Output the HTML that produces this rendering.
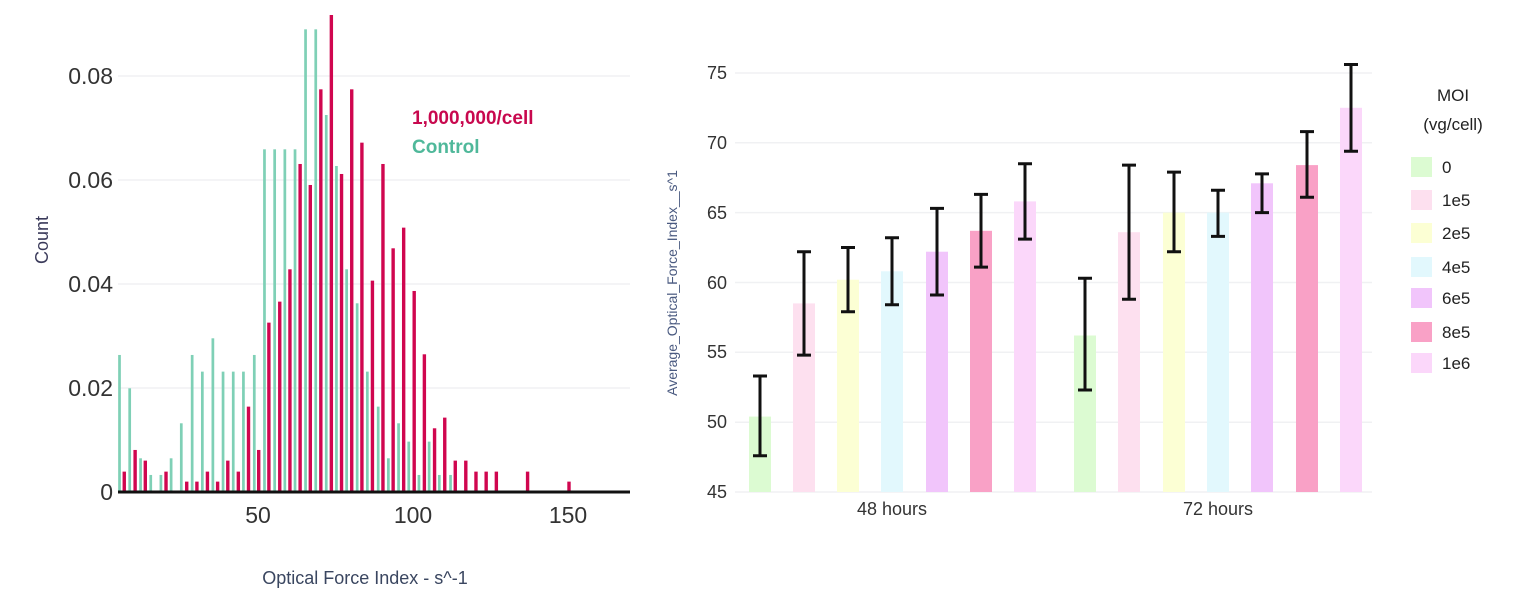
<!DOCTYPE html>
<html><head><meta charset="utf-8"><style>
html,body{margin:0;padding:0;background:#fff;}
svg{display:block;font-family:"Liberation Sans",sans-serif;}
</style></head><body>
<svg width="1526" height="604" viewBox="0 0 1526 604" xmlns="http://www.w3.org/2000/svg">
<rect width="1526" height="604" fill="#fff"/>
<!-- LEFT HISTOGRAM -->
<g stroke="#f0f1f3" stroke-width="1.5">
<line x1="118" y1="76" x2="630" y2="76"/><line x1="118" y1="180" x2="630" y2="180"/>
<line x1="118" y1="284" x2="630" y2="284"/><line x1="118" y1="388" x2="630" y2="388"/>
</g>
<g font-size="23" fill="#333" text-anchor="end">
<text x="113" y="84">0.08</text><text x="113" y="188">0.06</text><text x="113" y="292">0.04</text><text x="113" y="396">0.02</text><text x="113" y="500">0</text>
</g>
<g font-size="23" fill="#333" text-anchor="middle">
<text x="258" y="523">50</text><text x="413" y="523">100</text><text x="568" y="523">150</text>
</g>
<text x="365" y="584" font-size="18" fill="#3a4660" text-anchor="middle">Optical Force Index - s^-1</text>
<text transform="translate(48,240) rotate(-90)" font-size="18" fill="#3a3a5a" text-anchor="middle">Count</text>
<g transform="translate(110,0) scale(0.3395,0.3333)">
<g fill="#7fd0b6">
<rect x="24" y="1065" width="8" height="410"/><rect x="54" y="1165" width="8" height="310"/><rect x="86" y="1375" width="8" height="100"/><rect x="116" y="1425" width="8" height="50"/><rect x="146" y="1425" width="8" height="50"/><rect x="176" y="1375" width="8" height="100"/><rect x="206" y="1270" width="8" height="205"/><rect x="238" y="1065" width="8" height="410"/><rect x="268" y="1115" width="8" height="360"/><rect x="299" y="1015" width="8" height="460"/><rect x="329" y="1115" width="8" height="360"/><rect x="359" y="1115" width="8" height="360"/><rect x="389" y="1115" width="8" height="360"/><rect x="421" y="1065" width="8" height="410"/><rect x="451" y="448" width="8" height="1027"/><rect x="481" y="448" width="8" height="1027"/><rect x="511" y="448" width="8" height="1027"/><rect x="541" y="448" width="8" height="1027"/><rect x="572" y="88" width="8" height="1387"/><rect x="602" y="88" width="8" height="1387"/><rect x="633" y="345" width="8" height="1130"/><rect x="663" y="498" width="8" height="977"/><rect x="693" y="808" width="8" height="667"/><rect x="724" y="910" width="8" height="565"/><rect x="754" y="1115" width="8" height="360"/><rect x="786" y="1220" width="8" height="255"/><rect x="816" y="1375" width="8" height="100"/><rect x="846" y="1270" width="8" height="205"/><rect x="876" y="1325" width="8" height="150"/><rect x="906" y="1425" width="8" height="50"/><rect x="936" y="1325" width="8" height="150"/><rect x="966" y="1425" width="8" height="50"/><rect x="999" y="1425" width="8" height="50"/>
</g>
<g fill="#d0064f">
<rect x="37" y="1415" width="10" height="60"/><rect x="69" y="1350" width="10" height="125"/><rect x="99" y="1382" width="10" height="93"/><rect x="160" y="1415" width="10" height="60"/><rect x="221" y="1445" width="10" height="30"/><rect x="251" y="1445" width="10" height="30"/><rect x="282" y="1415" width="10" height="60"/><rect x="312" y="1445" width="10" height="30"/><rect x="342" y="1382" width="10" height="93"/><rect x="373" y="1415" width="10" height="60"/><rect x="403" y="1220" width="10" height="255"/><rect x="433" y="1350" width="10" height="125"/><rect x="463" y="968" width="10" height="507"/><rect x="495" y="905" width="10" height="570"/><rect x="525" y="808" width="10" height="667"/><rect x="555" y="492" width="10" height="983"/><rect x="585" y="555" width="10" height="920"/><rect x="616" y="268" width="10" height="1207"/><rect x="647" y="45" width="10" height="1430"/><rect x="677" y="522" width="10" height="953"/><rect x="707" y="268" width="10" height="1207"/><rect x="737" y="428" width="10" height="1047"/><rect x="768" y="842" width="10" height="633"/><rect x="799" y="492" width="10" height="983"/><rect x="829" y="745" width="10" height="730"/><rect x="860" y="683" width="10" height="792"/><rect x="891" y="873" width="10" height="602"/><rect x="921" y="1063" width="10" height="412"/><rect x="951" y="1285" width="10" height="190"/><rect x="981" y="1253" width="10" height="222"/><rect x="1012" y="1382" width="10" height="93"/><rect x="1043" y="1382" width="10" height="93"/><rect x="1073" y="1415" width="10" height="60"/><rect x="1103" y="1415" width="10" height="60"/><rect x="1133" y="1415" width="10" height="60"/><rect x="1225" y="1415" width="10" height="60"/><rect x="1347" y="1445" width="10" height="30"/>
</g>
</g>
<line x1="118" y1="492" x2="630" y2="492" stroke="#111" stroke-width="3"/>
<text x="412" y="124" font-size="19" font-weight="bold" fill="#c8084e">1,000,000/cell</text>
<text x="412" y="153" font-size="19" font-weight="bold" fill="#4fb89a">Control</text>

<!-- RIGHT BAR CHART -->
<g stroke="#f0f1f3" stroke-width="1.5">
<line x1="735" y1="492" x2="1372" y2="492"/><line x1="735" y1="422.2" x2="1372" y2="422.2"/><line x1="735" y1="352.3" x2="1372" y2="352.3"/><line x1="735" y1="282.5" x2="1372" y2="282.5"/><line x1="735" y1="212.6" x2="1372" y2="212.6"/><line x1="735" y1="142.8" x2="1372" y2="142.8"/><line x1="735" y1="73" x2="1372" y2="73"/>
</g>
<g font-size="18" fill="#333" text-anchor="end">
<text x="727" y="498">45</text><text x="727" y="428">50</text><text x="727" y="358">55</text><text x="727" y="289">60</text><text x="727" y="219">65</text><text x="727" y="149">70</text><text x="727" y="79">75</text>
</g>
<text transform="translate(677,283) rotate(-90)" font-size="14" fill="#4a5a80" text-anchor="middle">Average_Optical_Force_Index__s^1</text>
<g font-size="18" fill="#333" text-anchor="middle">
<text x="892" y="515">48 hours</text><text x="1218" y="515">72 hours</text>
</g>
<g>
<rect x="749" y="416.6" width="22" height="75.4" fill="#dcfbd2"/>
<rect x="793" y="303.4" width="22" height="188.6" fill="#fde0ef"/>
<rect x="837" y="279.7" width="22" height="212.3" fill="#fcffd4"/>
<rect x="881" y="271.3" width="22" height="220.7" fill="#e2f8fd"/>
<rect x="926" y="251.7" width="22" height="240.3" fill="#f1c5fb"/>
<rect x="970" y="230.8" width="22" height="261.2" fill="#f9a1c6"/>
<rect x="1014" y="201.4" width="22" height="290.6" fill="#fbd7fa"/>
<rect x="1074" y="335.5" width="22" height="156.5" fill="#dcfbd2"/>
<rect x="1118" y="232.2" width="22" height="259.8" fill="#fde0ef"/>
<rect x="1163" y="212.6" width="22" height="279.4" fill="#fcffd4"/>
<rect x="1207" y="212.6" width="22" height="279.4" fill="#e2f8fd"/>
<rect x="1251" y="183.3" width="22" height="308.7" fill="#f1c5fb"/>
<rect x="1296" y="165.1" width="22" height="326.9" fill="#f9a1c6"/>
<rect x="1340" y="107.8" width="22" height="384.2" fill="#fbd7fa"/>
</g>
<g stroke="#111" stroke-width="3" fill="none">
<path d="M760 455.7V376M753 455.7H767M753 376H767"/>
<path d="M804 355.1V251.7M797 355.1H811M797 251.7H811"/>
<path d="M848 311.8V247.5M841 311.8H855M841 247.5H855"/>
<path d="M892 304.8V237.7M885 304.8H899M885 237.7H899"/>
<path d="M937 295V208.4M930 295H944M930 208.4H944"/>
<path d="M981 267.1V194.4M974 267.1H988M974 194.4H988"/>
<path d="M1025 239.1V163.7M1018 239.1H1032M1018 163.7H1032"/>
<path d="M1085 390V278.3M1078 390H1092M1078 278.3H1092"/>
<path d="M1129 299.2V165.1M1122 299.2H1136M1122 165.1H1136"/>
<path d="M1174 251.7V172.1M1167 251.7H1181M1167 172.1H1181"/>
<path d="M1218 236.4V190.2M1211 236.4H1225M1211 190.2H1225"/>
<path d="M1262 212.6V173.9M1255 212.6H1269M1255 173.9H1269"/>
<path d="M1307 197.2V131.6M1300 197.2H1314M1300 131.6H1314"/>
<path d="M1351 151.3V64.5M1344 151.3H1358M1344 64.5H1358"/>
</g>
<!-- legend -->
<g font-size="17" fill="#222">
<text x="1453" y="101" text-anchor="middle">MOI</text>
<text x="1453" y="130" text-anchor="middle">(vg/cell)</text>
<rect x="1411" y="157" width="21" height="20" fill="#dcfbd2"/><text x="1442" y="173">0</text>
<rect x="1411" y="190" width="21" height="20" fill="#fde0ef"/><text x="1442" y="206">1e5</text>
<rect x="1411" y="223" width="21" height="20" fill="#fcffd4"/><text x="1442" y="239">2e5</text>
<rect x="1411" y="257" width="21" height="20" fill="#e2f8fd"/><text x="1442" y="273">4e5</text>
<rect x="1411" y="288" width="21" height="20" fill="#f1c5fb"/><text x="1442" y="304">6e5</text>
<rect x="1411" y="322" width="21" height="20" fill="#f9a1c6"/><text x="1442" y="338">8e5</text>
<rect x="1411" y="353" width="21" height="20" fill="#fbd7fa"/><text x="1442" y="369">1e6</text>
</g>
</svg>
</body></html>
